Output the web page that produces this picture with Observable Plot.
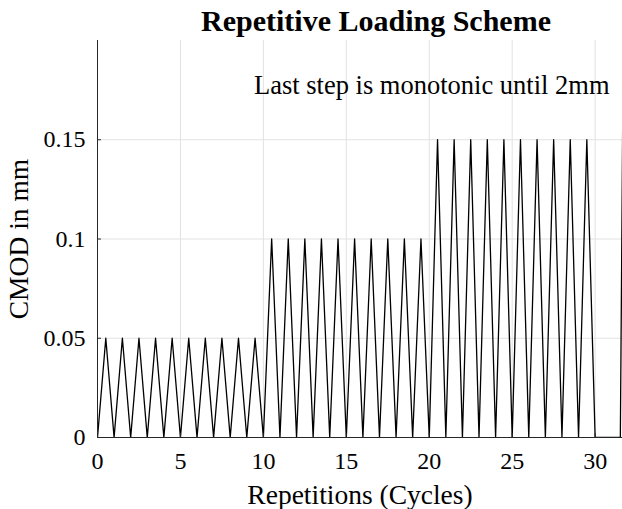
<!DOCTYPE html>
<html>
<head>
<meta charset="utf-8">
<script src="https://cdn.jsdelivr.net/npm/d3@7"></script>
<script src="https://cdn.jsdelivr.net/npm/@observablehq/plot@0.6"></script>
<style>
  html, body { margin: 0; padding: 0; background: #fff; }
  #wrap { position: relative; width: 622px; height: 509px; overflow: hidden; font-family: "Liberation Serif", "Times New Roman", serif; }
  #title { position: absolute; left: 0; top: 6px; width: 752px; text-align: center; font-weight: bold; font-size: 30px; line-height: 30px; color: #000; white-space: nowrap; }
  #chart { position: absolute; left: 0; top: 36px; }
</style>
</head>
<body>
<div id="wrap">
  <div id="title">Repetitive Loading Scheme</div>
  <div id="chart"></div>
</div>
<script>
// Peak CMOD (mm) of each loading cycle, cycles 1..30
const cyclePeaks = [
  0.05, 0.05, 0.05, 0.05, 0.05, 0.05, 0.05, 0.05, 0.05, 0.05,
  0.10, 0.10, 0.10, 0.10, 0.10, 0.10, 0.10, 0.10, 0.10, 0.10,
  0.15, 0.15, 0.15, 0.15, 0.15, 0.15, 0.15, 0.15, 0.15, 0.15
];
// Final monotonic step: unloaded pause, then loading up to 2 mm
const finalStepX = [30, 31.52, 33.3];
const finalStepY = [0, 0, 2];

const xTicks = [0, 5, 10, 15, 20, 25, 30];
const yTicks = [0, 0.05, 0.1, 0.15];
const yTickLabels = ["0", "0.05", "0.1", "0.15"];

const annotation = "Last step is monotonic until 2mm";

// Build the load path: each cycle goes 0 -> peak -> 0
const path = [];
cyclePeaks.forEach((p, i) => {
  path.push({x: i, y: 0});
  path.push({x: i + 0.5, y: p});
});
finalStepX.forEach((x, i) => path.push({x, y: finalStepY[i]}));

const font = "Liberation Serif";
const plot = Plot.plot({
  width: 622,
  height: 473,
  marginLeft: 97,
  marginRight: 0,
  marginTop: 4,
  marginBottom: 72,
  style: {fontFamily: font, color: "#000", background: "transparent"},
  x: {domain: [0, 31.65]},
  y: {domain: [0, 0.2]},
  marks: [
    Plot.ruleX(xTicks.filter(d => d > 0), {y1: 0, y2: 0.2, stroke: "#e2e2e2", strokeWidth: 1}),
    Plot.ruleY(yTicks.filter(d => d > 0), {x1: 0, x2: 31.65, stroke: "#e2e2e2", strokeWidth: 1}),
    Plot.line(path, {x: "x", y: "y", stroke: "#000", strokeWidth: 1.3, clip: true}),
    // inward tick marks
    Plot.ruleX(xTicks, {y1: 0, y2: 0.002, stroke: "#262626", strokeWidth: 1}),
    Plot.ruleY(yTicks, {x1: 0, x2: 0.24, stroke: "#262626", strokeWidth: 1}),
    // axis lines
    Plot.ruleX([0], {y1: 0, y2: 0.2, stroke: "#262626", strokeWidth: 1}),
    Plot.ruleY([0], {x1: 0, x2: 31.65, stroke: "#262626", strokeWidth: 1}),
    Plot.axisX({ticks: xTicks, tickSize: 0, tickPadding: 14, fontSize: 24, label: "Repetitions (Cycles)", labelAnchor: "center", labelArrow: "none", labelOffset: 66}),
    Plot.axisY({ticks: yTicks, tickFormat: (d) => yTickLabels[yTicks.indexOf(d)], tickSize: 0, tickPadding: 12, fontSize: 24, label: "CMOD in mm", labelAnchor: "center", labelArrow: "none", labelOffset: 89}),
    Plot.text([annotation], {x: 20.15, y: 0.1775, text: d => d, fontSize: 26.5, fill: "#000", textAnchor: "middle"})
  ]
});
// bigger axis labels
plot.querySelectorAll("g[aria-label='x-axis label'], g[aria-label='y-axis label']").forEach(g => g.setAttribute("font-size", "27.5"));
document.getElementById("chart").appendChild(plot);
</script>
</body>
</html>
